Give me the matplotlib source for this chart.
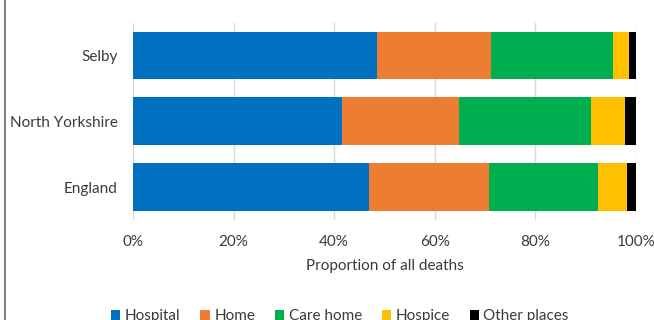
import matplotlib
matplotlib.use("Agg")
import matplotlib.pyplot as plt
from matplotlib.lines import Line2D

plt.rcParams['font.family'] = ['Lato', 'DejaVu Sans']

areas = ["Selby", "North Yorkshire", "England"]
places = ["Hospital", "Home", "Care home", "Hospice", "Other places"]
colours = ["#0070C0", "#ED7D31", "#00B050", "#FFC000", "#000000"]

# share of deaths (%) by place, per area
hospital = [48.6, 41.6, 46.9]
home = [22.6, 23.3, 23.8]
care_home = [24.2, 26.1, 21.7]
hospice = [3.3, 6.9, 5.9]
other = [1.3, 2.1, 1.7]

series = [hospital, home, care_home, hospice, other]
ticks = [0, 20, 40, 60, 80, 100]
TXT = '#3a3a3a'
FS = 11

fig = plt.figure(figsize=(6.54, 3.2), dpi=100)
ax = fig.add_axes([133 / 654, 100 / 320, 503 / 654, 197.5 / 320])

ypos = list(range(len(areas)))
left = [0.0] * len(areas)
for name, vals, col in zip(places, series, colours):
    ax.barh(ypos, vals, left=left, height=0.725, color=col, label=name, zorder=2)
    left = [a + b for a, b in zip(left, vals)]

ax.set_xlim(0, 100)
ax.set_ylim(2.5, -0.5)
ax.set_yticks(ypos)
ax.set_yticklabels(areas)
ax.set_xticks(ticks)
ax.set_xticklabels([f"{t}%" for t in ticks])
ax.tick_params(length=0, pad=11, labelsize=FS, colors=TXT)
ax.xaxis.grid(True, color='#d9d9d9', linewidth=1, zorder=0)
ax.set_axisbelow(True)
for s in ax.spines.values():
    s.set_visible(False)
ax.set_xlabel("Proportion of all deaths", fontsize=FS, color=TXT, labelpad=7)

fig.legend(loc='center', bbox_to_anchor=(340 / 654, 0.012), ncol=5, frameon=False,
           fontsize=FS, handlelength=0.6, handleheight=0.6, handletextpad=0.3,
           columnspacing=1.3, labelcolor=TXT)

# left edge of the chart area border
fig.add_artist(Line2D([4.5 / 654, 4.5 / 654], [0, 1], transform=fig.transFigure,
                      color='#808080', linewidth=1.5))

fig.savefig("out.png", dpi=100)
